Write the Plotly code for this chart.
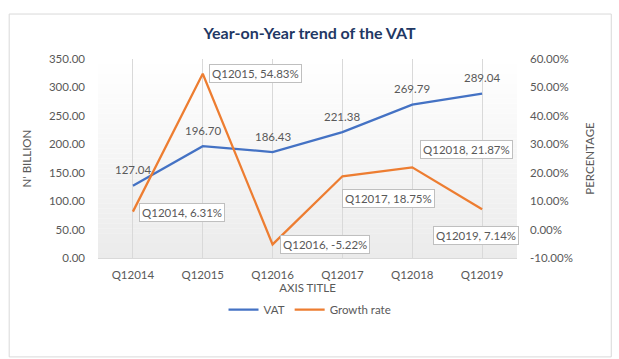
import plotly.graph_objects as go

categories = ["Q12014", "Q12015", "Q12016", "Q12017", "Q12018", "Q12019"]
vat = [127.04, 196.70, 186.43, 221.38, 269.79, 289.04]
growth = [6.31, 54.83, -5.22, 18.75, 21.87, 7.14]
left_ticks = [0, 50, 100, 150, 200, 250, 300, 350]
right_ticks = [-10, 0, 10, 20, 30, 40, 50, 60]

FONT = "Lato"
GRAY = "#595959"
BLUE = "#4472C4"
ORANGE = "#ED7D31"

fig = go.Figure()
fig.add_trace(go.Scatter(x=categories, y=vat, name="VAT", mode="lines",
                         line=dict(color=BLUE, width=2.25)))
fig.add_trace(go.Scatter(x=categories, y=growth, name="Growth rate", mode="lines",
                         line=dict(color=ORANGE, width=2.25), yaxis="y2"))

# gradient plot background
n = 40
shapes = []
for i in range(n):
    t = i / (n - 1)
    v = int(round(255 - (255 - 235) * t))
    shapes.append(dict(type="rect", xref="paper", yref="paper", layer="below",
                       x0=0, x1=1, y0=1 - (i + 1) / n, y1=1 - i / n,
                       line=dict(width=0), fillcolor=f"rgb({v},{v},{v})"))
# outer chart border
shapes.append(dict(type="rect", xref="paper", yref="paper", layer="below",
                   x0=-0.212, x1=1.225, y0=-0.497, y1=1.226,
                   line=dict(color="#d9d9d9", width=1), fillcolor="rgba(0,0,0,0)"))

annotations = []
for c, v in zip(categories, vat):
    annotations.append(dict(x=c, y=v, xref="x", yref="y", text=f"{v:.2f}",
                            showarrow=False, yshift=16,
                            font=dict(family=FONT, size=11.5, color=GRAY)))

label_pos = [
    dict(xanchor="left", yanchor="middle", xshift=6, yshift=-1),
    dict(xanchor="left", yanchor="middle", xshift=6, yshift=0),
    dict(xanchor="left", yanchor="middle", xshift=7, yshift=0),
    dict(xanchor="left", yanchor="top", xshift=0, yshift=-13),
    dict(xanchor="left", yanchor="bottom", xshift=8, yshift=8),
    dict(xanchor="center", yanchor="top", xshift=-6, yshift=-17),
]
for c, g, p in zip(categories, growth, label_pos):
    annotations.append(dict(x=c, y=g, xref="x", yref="y2", text=f"{c}, {g:.2f}%",
                            showarrow=False, bgcolor="white", bordercolor="#bfbfbf",
                            borderwidth=1, borderpad=2,
                            font=dict(family=FONT, size=11.5, color=GRAY), **p))

fig.update_layout(
    width=619, height=359,
    margin=dict(l=98, r=102, t=59, b=101),
    paper_bgcolor="white", plot_bgcolor="rgba(0,0,0,0)",
    font=dict(family=FONT, size=11, color=GRAY),
    title=dict(text="<b>Year-on-Year trend of the VAT</b>", x=0.5, xanchor="center",
               y=0.908, yanchor="middle",
               font=dict(family=FONT, size=16, color="#1F3864")),
    showlegend=True,
    legend=dict(orientation="h", x=0.506, xanchor="center", y=-0.26, yanchor="middle",
                font=dict(family=FONT, size=11.5, color=GRAY), bgcolor="rgba(0,0,0,0)"),
    xaxis=dict(type="category", range=[-0.5, len(categories) - 0.5],
               showgrid=True, gridcolor="#d9d9d9", gridwidth=1,
               showline=True, linecolor="#d9d9d9", ticks="", ticklabelstandoff=6,
               tickfont=dict(family=FONT, size=11.5, color=GRAY),
               title=dict(text="AXIS TITLE", standoff=1,
                          font=dict(family=FONT, size=11.5, color=GRAY)),
               zeroline=False),
    yaxis=dict(range=[0, 350], tickvals=left_ticks,
               ticktext=[f"{v:.2f}" for v in left_ticks],
               showgrid=False, zeroline=False, showline=False, ticks="",
               ticklabelstandoff=12,
               tickfont=dict(family=FONT, size=11.5, color=GRAY),
               title=dict(text="N' BILLION", standoff=14,
                          font=dict(family=FONT, size=11.5, color=GRAY))),
    yaxis2=dict(range=[-10, 60], tickvals=right_ticks,
                ticktext=[f"{v:.2f}%" for v in right_ticks],
                overlaying="y", side="right",
                showgrid=False, zeroline=False, showline=False, ticks="",
                ticklabelstandoff=12,
                tickfont=dict(family=FONT, size=11.5, color=GRAY),
                title=dict(text="PERCENTAGE", standoff=14,
                           font=dict(family=FONT, size=11.5, color=GRAY))),
    shapes=shapes,
    annotations=annotations,
)

fig.write_html("out.html", config={"displayModeBar": False},
               post_script="document.body.style.margin='0';document.body.style.padding='0';")
